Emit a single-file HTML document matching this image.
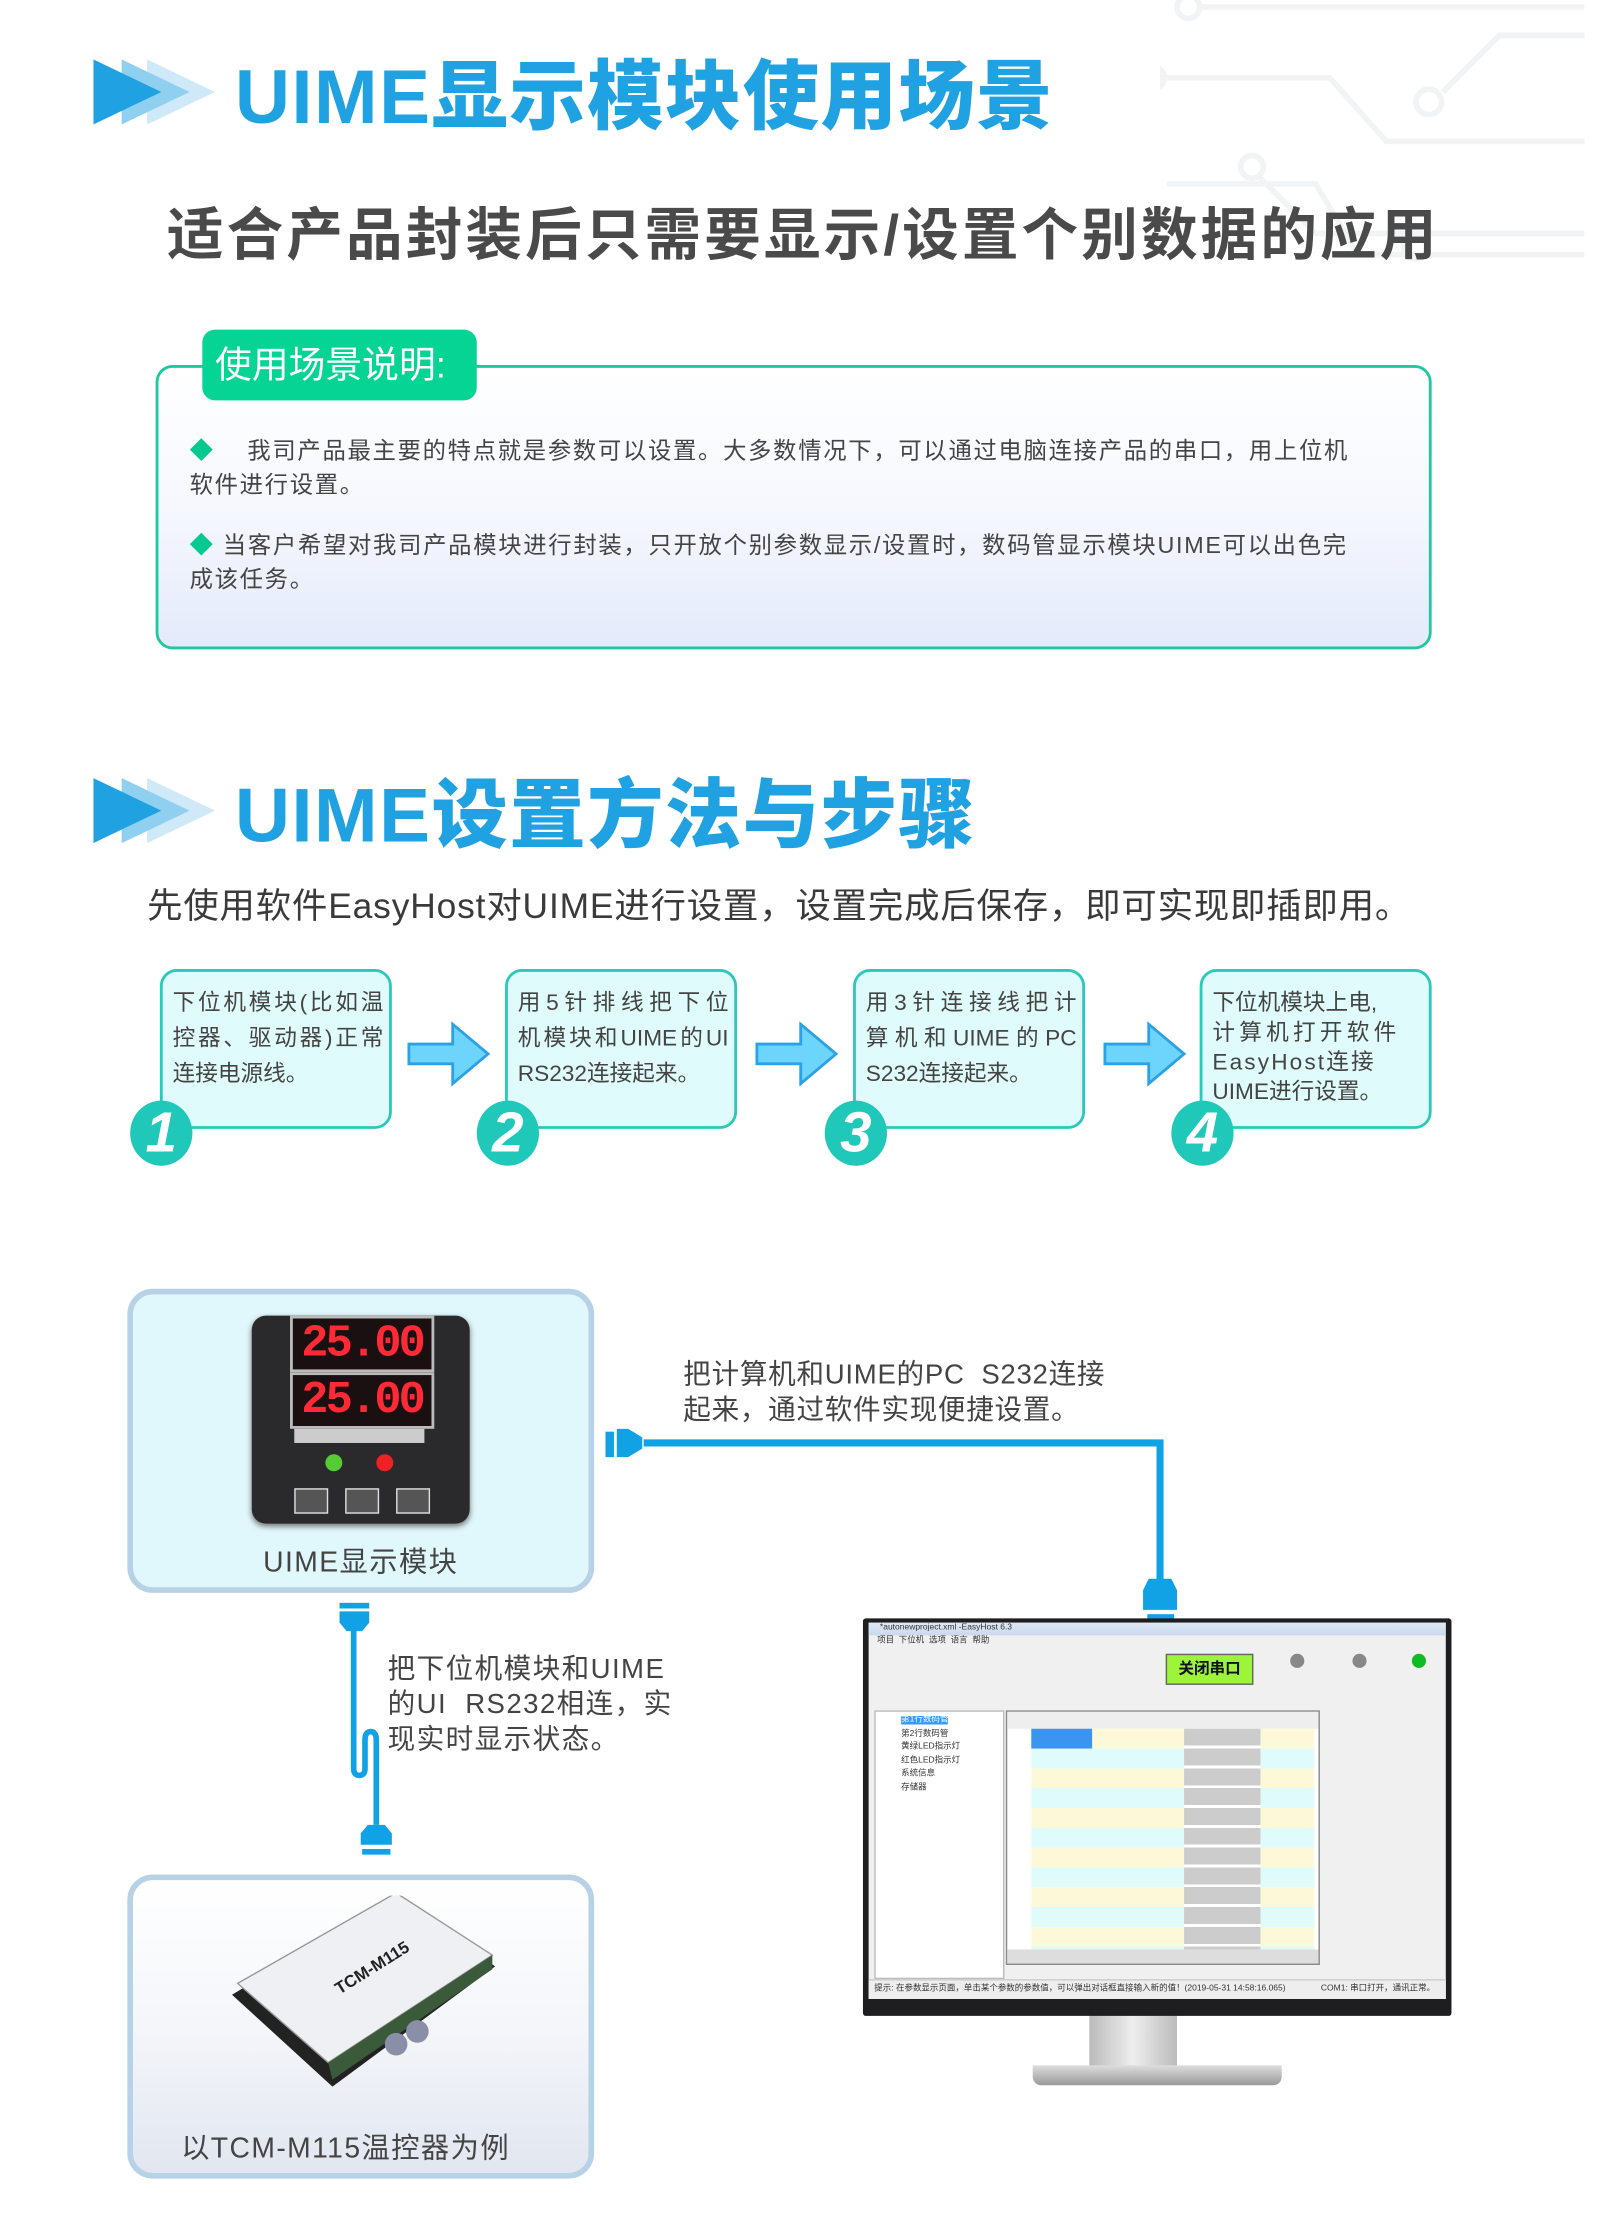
<!DOCTYPE html>
<html><head><meta charset="utf-8">
<style>
html,body{margin:0;padding:0;background:#fff;}
body{width:1600px;height:2238px;overflow:hidden;position:relative;}
#w{position:absolute;left:0;top:0;width:1131px;height:1582px;transform:scale(1.41468);transform-origin:0 0;font-family:"Liberation Sans","Noto Sans CJK SC",sans-serif;}
.a{position:absolute;}
.h{color:#20a2e2;font-weight:900;font-size:54px;letter-spacing:1px;white-space:nowrap;}
.step{position:absolute;top:685px;width:164px;height:113px;background:#e0fbfb;border:2px solid #2cc9bb;border-radius:12px;box-sizing:border-box;padding:10px 4px 0 7px;font-size:16px;line-height:25px;color:#444;}
.step div{white-space:nowrap;}
.j{text-align:justify;text-align-last:justify;}
.num{position:absolute;top:778px;width:44px;height:46px;border-radius:50%;background:#1fc8b8;color:#fff;font-weight:900;font-style:italic;font-size:40px;line-height:46px;text-align:center;}
</style></head><body><div id="w">

<svg class="a" style="left:820px;top:0" width="311" height="240" viewBox="0 0 311 240" fill="none" stroke="#f1f3f5" stroke-width="4">
<path d="M30 5 H300"/><circle cx="20" cy="5" r="8"/>
<path d="M200 65 L240 25 H300"/><circle cx="190" cy="72" r="9"/>
<path d="M0 55 H120 L160 100 H300"/><circle cx="-5" cy="55" r="8"/>
<path d="M70 125 L110 165 H300"/><circle cx="65" cy="118" r="8"/>
<path d="M5 130 H110 L140 180 H300"/><circle cx="180" cy="175" r="8"/>
</svg>

<svg class="a" style="left:66px;top:42px" width="86" height="46"><polygon points="38,0 86,23 38,46" fill="#cfe9f8"/><polygon points="20,0 68,23 20,46" fill="#8fd0f0"/><polygon points="0,0 48,23 0,46" fill="#20a2e2"/></svg>
<div class="a h" style="left:166px;top:24px;">UIME显示模块使用场景</div>
<div class="a" style="left:118px;top:134px;font-size:40px;font-weight:700;color:#4a4a4a;white-space:nowrap;letter-spacing:2.2px;">适合产品封装后只需要显示/设置个别数据的应用</div>

<div class="a" style="left:110px;top:258px;width:902px;height:201px;box-sizing:border-box;border:2px solid #1ec8a0;border-radius:12px;background:linear-gradient(#fff,#f6f8fe 50%,#e4eafb);"></div>
<div class="a" style="left:143px;top:233px;width:194px;height:50px;background:#05d494;border-radius:9px;color:#fff;font-size:26px;line-height:50px;text-indent:9px;white-space:nowrap;">使用场景说明:</div>
<div class="a" style="left:134px;top:307px;width:860px;font-size:16.5px;line-height:24px;color:#444;letter-spacing:1.2px;white-space:nowrap;">
<div><span style="color:#05c98e">◆</span>&nbsp;&nbsp;&nbsp;&nbsp;我司产品最主要的特点就是参数可以设置。大多数情况下，可以通过电脑连接产品的串口，用上位机<br>软件进行设置。</div>
<div style="margin-top:19px"><span style="color:#05c98e">◆</span> 当客户希望对我司产品模块进行封装，只开放个别参数显示/设置时，数码管显示模块UIME可以出色完<br>成该任务。</div>
</div>

<svg class="a" style="left:66px;top:550px" width="86" height="46"><polygon points="38,0 86,23 38,46" fill="#cfe9f8"/><polygon points="20,0 68,23 20,46" fill="#8fd0f0"/><polygon points="0,0 48,23 0,46" fill="#20a2e2"/></svg>
<div class="a h" style="left:166px;top:532px;">UIME设置方法与步骤</div>
<div class="a" style="left:104px;top:621px;font-size:25px;color:#3a3a3a;white-space:nowrap;letter-spacing:0.6px;">先使用软件EasyHost对UIME进行设置，设置完成后保存，即可实现即插即用。</div>

<div class="step" style="left:113px;"><div class="j">下位机模块(比如温</div><div class="j">控器、驱动器)正常</div><div>连接电源线。</div></div>
<div class="step" style="left:357px;"><div class="j">用5针排线把下位</div><div class="j">机模块和UIME的UI</div><div>RS232连接起来。</div></div>
<div class="step" style="left:603px;"><div class="j">用3针连接线把计</div><div class="j">算机和UIME的PC</div><div>S232连接起来。</div></div>
<div class="step" style="left:848px;padding-top:12px;line-height:21px;"><div>下位机模块上电,</div><div style="letter-spacing:3px">计算机打开软件</div><div style="letter-spacing:1.5px">EasyHost连接</div><div>UIME进行设置。</div></div>
<div class="num" style="left:92px;">1</div><div class="num" style="left:337px;">2</div><div class="num" style="left:583px;">3</div><div class="num" style="left:828px;">4</div>
<svg class="a" style="left:288px;top:722px" width="60" height="46"><polygon points="1,16 32,16 32,2 57,23 32,44 32,30 1,30" fill="#6dd4fb" stroke="#2aa2e4" stroke-width="2"/></svg>
<svg class="a" style="left:534px;top:722px" width="60" height="46"><polygon points="1,16 32,16 32,2 57,23 32,44 32,30 1,30" fill="#6dd4fb" stroke="#2aa2e4" stroke-width="2"/></svg>
<svg class="a" style="left:780px;top:722px" width="60" height="46"><polygon points="1,16 32,16 32,2 57,23 32,44 32,30 1,30" fill="#6dd4fb" stroke="#2aa2e4" stroke-width="2"/></svg>

<div class="a" style="left:90px;top:911px;width:330px;height:215px;box-sizing:border-box;border:4px solid #b7d2e6;border-radius:18px;background:#e0f8fc;"></div>
<div class="a" style="left:178px;top:930px;width:154px;height:147px;background:#2a2a2c;border-radius:10px;box-shadow:0 2px 4px #777;"></div>
<div class="a" style="left:205px;top:930px;width:98px;height:36px;background:#1a1012;border:2px solid #bbb;color:#ff2a36;font:bold 32px/36px 'Liberation Mono',monospace;text-align:center;letter-spacing:-2px;">25.00</div>
<div class="a" style="left:205px;top:970px;width:98px;height:36px;background:#1a1012;border:2px solid #bbb;color:#ff2a36;font:bold 32px/36px 'Liberation Mono',monospace;text-align:center;letter-spacing:-2px;">25.00</div>
<div class="a" style="left:208px;top:1010px;width:92px;height:10px;background:#ccc;"></div>
<div class="a" style="left:230px;top:1028px;width:12px;height:12px;border-radius:50%;background:#5c3;"></div>
<div class="a" style="left:266px;top:1028px;width:12px;height:12px;border-radius:50%;background:#e22;"></div>
<div class="a" style="left:208px;top:1052px;width:22px;height:16px;background:#555;border:1px solid #ddd;"></div>
<div class="a" style="left:244px;top:1052px;width:22px;height:16px;background:#555;border:1px solid #ddd;"></div>
<div class="a" style="left:280px;top:1052px;width:22px;height:16px;background:#555;border:1px solid #ddd;"></div>
<div class="a" style="left:186px;top:1088px;font-size:20px;color:#444;letter-spacing:1px;">UIME显示模块</div>

<svg class="a" style="left:0;top:0" width="1131" height="1582" fill="none">
<path d="M455 1020 H820 V1118" stroke="#11a2e6" stroke-width="5"/>
<rect x="428" y="1012" width="6" height="18" fill="#11a2e6"/><path d="M436 1010 h8 l10 6 v8 l-10 6 h-8z" fill="#11a2e6"/>
<path d="M812 1116 h16 l4 8 v14 h-24 v-14z" fill="#11a2e6"/><rect x="811" y="1141" width="19" height="5" fill="#11a2e6"/>
<path d="M250 1150 V1250 q0 5 4 5 q4 0 4-5 V1230 q0-6 4-6 q4 0 4 6 V1290" stroke="#11a2e6" stroke-width="4"/>
<rect x="240" y="1133" width="21" height="4" fill="#11a2e6"/><path d="M240 1139 h21 v8 l-5 6 h-11 l-5-6z" fill="#11a2e6"/>
<path d="M260 1290 h12 l5 6 v8 h-22 v-8z" fill="#11a2e6"/><rect x="256" y="1307" width="20" height="4" fill="#11a2e6"/>
</svg>
<div class="a" style="left:483px;top:960px;font-size:19.5px;line-height:25px;color:#444;letter-spacing:.5px;white-space:nowrap;">把计算机和UIME的PC&nbsp; S232连接<br>起来，通过软件实现便捷设置。</div>
<div class="a" style="left:274px;top:1168px;font-size:19.5px;line-height:25px;color:#444;letter-spacing:1px;white-space:nowrap;">把下位机模块和UIME<br>的UI&nbsp; RS232相连，实<br>现实时显示状态。</div>

<div class="a" style="left:90px;top:1325px;width:330px;height:215px;box-sizing:border-box;border:4px solid #b7d2e6;border-radius:18px;background:linear-gradient(#fff,#f4f6fa 50%,#e1e6f0);"></div>
<svg class="a" style="left:160px;top:1340px" width="200" height="150">
<polygon points="4,70 120,0 190,50 75,135" fill="#222"/>
<polygon points="8,62 120,-2 188,42 72,118" fill="#eef0f3" stroke="#999"/>
<polygon points="72,118 188,42 188,52 75,130" fill="#3a5a3a"/>
<circle cx="120" cy="105" r="8" fill="#8a8fa8"/><circle cx="135" cy="96" r="8" fill="#8a8fa8"/>
<text x="80" y="70" font-size="12" font-weight="bold" transform="rotate(-32 80 70)" fill="#222" font-family="Liberation Sans">TCM-M115</text>
</svg>
<div class="a" style="left:128px;top:1502px;font-size:20px;color:#444;letter-spacing:1px;">以TCM-M115温控器为例</div>

<div class="a" style="left:770px;top:1422px;width:62px;height:42px;background:linear-gradient(90deg,#bbb,#eee,#bbb);"></div>
<div class="a" style="left:730px;top:1460px;width:176px;height:14px;background:linear-gradient(#ddd,#999);border-radius:0 0 6px 6px;"></div>
<div class="a" style="left:610px;top:1144px;width:416px;height:281px;background:#1e1e20;border-radius:2px;"></div>
<div class="a" style="left:614px;top:1147px;width:408px;height:266px;background:#f0f0f0;overflow:hidden;font-size:6px;color:#333;">
<div style="height:9px;background:linear-gradient(#dfe9f6,#c9d9ee);padding-left:8px;line-height:9px;">*autonewproject.xml -EasyHost 6.3</div>
<div style="height:8px;line-height:8px;padding-left:6px;">项目 &nbsp;下位机 &nbsp;选项 &nbsp;语言 &nbsp;帮助</div>
<div class="a" style="left:210px;top:22px;width:60px;height:20px;background:#9cf53a;border:1px solid #666;font-size:11px;font-weight:bold;line-height:20px;text-align:center;color:#111;">关闭串口</div>
<div class="a" style="left:298px;top:22px;width:10px;height:10px;border-radius:50%;background:#888;"></div>
<div class="a" style="left:342px;top:22px;width:10px;height:10px;border-radius:50%;background:#888;"></div>
<div class="a" style="left:384px;top:22px;width:10px;height:10px;border-radius:50%;background:#1b2;"></div>
<div class="a" style="left:4px;top:62px;width:92px;height:190px;background:#fff;border:1px solid #bbb;line-height:9.5px;padding:2px 0 0 18px;box-sizing:border-box;"><span style="background:#39f;color:#fff">第1行数码管</span><br>第2行数码管<br>黄绿LED指示灯<br>红色LED指示灯<br>系统信息<br>存储器</div>
<div class="a" style="left:97px;top:62px;width:220px;height:178px;background:#fff;border:1px solid #888;overflow:hidden;">
<div style="height:12px;background:#eee;"></div>
<div style="position:absolute;left:17px;top:12px;width:200px;height:156px;background:repeating-linear-gradient(#fdf9d8 0 14px,#e0fbfb 14px 28px);"></div>
<div style="position:absolute;left:17px;top:12px;width:43px;height:14px;background:#3a94f0;"></div>
<div style="position:absolute;left:125px;top:12px;width:54px;height:156px;background:repeating-linear-gradient(#ccc 0 12px,#fff 12px 14px);"></div>
<div style="position:absolute;left:0;top:168px;width:220px;height:10px;background:#ddd;"></div>
</div>
<div class="a" style="left:0;top:252px;width:408px;height:14px;background:#eee;border-top:1px solid #ccc;line-height:12px;padding-left:4px;">提示: 在参数显示页面，单击某个参数的参数值，可以弹出对话框直接输入新的值！(2019-05-31 14:58:16.065) &nbsp;&nbsp;&nbsp;&nbsp;&nbsp;&nbsp;&nbsp;&nbsp;&nbsp;&nbsp;&nbsp;&nbsp;&nbsp;&nbsp;COM1: 串口打开，通讯正常。</div>
</div>

</div></body></html>
